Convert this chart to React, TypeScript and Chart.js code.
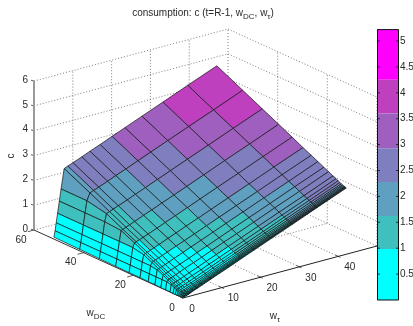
import React, { useEffect, useRef } from "react";
import { Chart, registerables } from "chart.js";
Chart.register(...registerables);

const wDC = [0, 0.15, 0.3, 0.5, 0.75, 1.05, 1.4, 1.85, 2.4, 3.1, 4, 5.2, 7, 8.9, 11.3, 14, 17.3, 21.7, 27.1, 33.7, 41.6, 52];
const wTau = [0, 0.3, 0.6, 0.95, 1.4, 1.85, 2.65, 3.6, 4.9, 7.2, 9.3, 11.9, 15, 18.3, 22.7, 28.1, 34.5, 42];
const consumption = [
  [0, .02, .04, .06, .09, .12, .17, .23, .31, .46, .59, .75, .95, 1.16, 1.44, 1.78, 2.19, 2.66],
  [0, .03, .05, .07, .10, .12, .18, .24, .32, .46, .60, .76, .96, 1.17, 1.45, 1.79, 2.19, 2.67],
  [0, .03, .05, .08, .10, .13, .18, .24, .33, .47, .61, .77, .97, 1.18, 1.45, 1.80, 2.20, 2.68],
  [0, .04, .06, .09, .11, .14, .19, .25, .34, .48, .62, .78, .98, 1.19, 1.46, 1.81, 2.21, 2.69],
  [0, .06, .08, .10, .13, .15, .21, .27, .35, .49, .63, .79, .99, 1.20, 1.48, 1.82, 2.22, 2.70],
  [0, .07, .09, .11, .14, .17, .22, .28, .36, .51, .64, .81, 1.00, 1.21, 1.49, 1.83, 2.24, 2.72],
  [0, .09, .11, .13, .16, .19, .24, .30, .38, .53, .66, .82, 1.02, 1.23, 1.51, 1.85, 2.26, 2.73],
  [0, .11, .13, .15, .18, .21, .26, .32, .40, .55, .68, .85, 1.04, 1.25, 1.53, 1.87, 2.28, 2.75],
  [0, .14, .16, .18, .21, .24, .29, .35, .43, .57, .71, .87, 1.07, 1.28, 1.56, 1.90, 2.31, 2.78],
  [0, .17, .19, .21, .24, .27, .32, .38, .46, .61, .74, .91, 1.10, 1.31, 1.59, 1.94, 2.34, 2.82],
  [0, .22, .24, .26, .29, .31, .37, .43, .51, .65, .79, .95, 1.15, 1.36, 1.64, 1.98, 2.38, 2.86],
  [.01, .28, .29, .32, .35, .37, .42, .48, .57, .71, .85, 1.01, 1.21, 1.42, 1.70, 2.04, 2.44, 2.92],
  [.01, .32, .38, .40, .43, .46, .51, .57, .66, .80, .93, 1.10, 1.30, 1.50, 1.78, 2.13, 2.53, 3.01],
  [.01, .32, .48, .50, .53, .56, .61, .67, .75, .89, 1.03, 1.19, 1.39, 1.60, 1.88, 2.22, 2.63, 3.10],
  [.02, .32, .59, .62, .65, .67, .72, .78, .87, 1.01, 1.15, 1.31, 1.51, 1.72, 2.00, 2.34, 2.74, 3.22],
  [.02, .32, .63, .75, .78, .81, .86, .92, 1.00, 1.15, 1.28, 1.44, 1.64, 1.85, 2.13, 2.47, 2.88, 3.35],
  [.03, .32, .63, .91, .94, .97, 1.02, 1.08, 1.16, 1.31, 1.44, 1.61, 1.80, 2.01, 2.29, 2.63, 3.04, 3.51],
  [.03, .32, .63, 1.00, 1.16, 1.19, 1.24, 1.30, 1.38, 1.52, 1.66, 1.82, 2.02, 2.23, 2.51, 2.85, 3.26, 3.73],
  [.04, .32, .63, 1.00, 1.42, 1.45, 1.50, 1.56, 1.64, 1.79, 1.92, 2.09, 2.28, 2.49, 2.77, 3.12, 3.52, 4.00],
  [.05, .32, .63, 1.00, 1.47, 1.78, 1.83, 1.89, 1.97, 2.11, 2.25, 2.41, 2.61, 2.82, 3.10, 3.44, 3.85, 4.32],
  [.06, .32, .63, 1.00, 1.47, 1.94, 2.22, 2.28, 2.36, 2.50, 2.64, 2.80, 3.00, 3.21, 3.49, 3.83, 4.23, 4.71],
  [.08, .32, .63, 1.00, 1.47, 1.94, 2.73, 2.79, 2.87, 3.01, 3.15, 3.31, 3.51, 3.72, 4.00, 4.34, 4.75, 5.22],
];
const bandEdges = [0, 0.985, 1.62, 2.28, 2.93, 3.6, 4.25, 5.22];
const bandColors = ["#00ffff", "#40bfbf", "#5f9fbf", "#7f7fbf", "#9f5fbf", "#bf40bf", "#ff00ff"];
const wDCTicks = [0, 20, 40, 60];
const wTauTicks = [0, 10, 20, 30, 40];
const cTicks = [0, 1, 2, 3, 4, 5, 6];
const colorbarTicks = [0.5, 1, 1.5, 2, 2.5, 3, 3.5, 4, 4.5, 5];

const WDC_MAX = 60;
const WT_MAX = 50;
const C_MAX = 6;
const project = (d: number, t: number, c: number) => ({
  x: 183 - 2.483 * d + 3.88 * t,
  y: 298 - 1.133 * d - 1.04 * t - 24.83 * c,
});
const barX0 = 377.5;
const barX1 = 398.5;
const barY = (v: number) => 300 - 51.8 * v;

const bandOf = (v: number) => {
  for (let k = bandColors.length - 1; k >= 0; k--) if (v >= bandEdges[k]) return bandColors[k];
  return bandColors[0];
};

const lineSet = (pts: { x: number; y: number }[], color: string, width: number, dash: number[] = []) => ({
  data: pts,
  showLine: true,
  fill: false,
  borderColor: color,
  borderWidth: width,
  borderDash: dash,
  pointRadius: 0,
  tension: 0,
});
const polySet = (pts: { x: number; y: number }[], fillColor: string, color: string, width: number) => ({
  data: [...pts, pts[0]],
  showLine: true,
  fill: "shape",
  backgroundColor: fillColor,
  borderColor: color,
  borderWidth: width,
  pointRadius: 0,
  tension: 0,
});

function buildDatasets() {
  const top: any[] = [];
  for (let k = 0; k < bandColors.length; k++) {
    top.push(
      polySet(
        [
          { x: barX0, y: barY(bandEdges[k]) },
          { x: barX1, y: barY(bandEdges[k]) },
          { x: barX1, y: barY(bandEdges[k + 1]) },
          { x: barX0, y: barY(bandEdges[k + 1]) },
        ],
        bandColors[k],
        bandColors[k],
        0
      )
    );
  }
  const barFrame = [
    { x: barX0, y: barY(bandEdges[0]) },
    { x: barX1, y: barY(bandEdges[0]) },
    { x: barX1, y: barY(bandEdges[7]) },
    { x: barX0, y: barY(bandEdges[7]) },
    { x: barX0, y: barY(bandEdges[0]) },
  ];
  const barSets: any[] = [lineSet(barFrame, "#111", 1)];
  colorbarTicks.forEach((v) => {
    barSets.push(lineSet([{ x: barX1 - 2.5, y: barY(v) }, { x: barX1, y: barY(v) }], "#111", 0.8));
    barSets.push(lineSet([{ x: barX0, y: barY(v) }, { x: barX0 + 2.5, y: barY(v) }], "#111", 0.8));
  });

  // surface, nearest facet first because Chart.js paints the last dataset first
  const surface: any[] = [];
  for (let i = 0; i < wDC.length - 1; i++) {
    for (let j = 0; j < wTau.length - 1; j++) {
      surface.push(
        polySet(
          [
            project(wDC[i], wTau[j], consumption[i][j]),
            project(wDC[i + 1], wTau[j], consumption[i + 1][j]),
            project(wDC[i + 1], wTau[j + 1], consumption[i + 1][j + 1]),
            project(wDC[i], wTau[j + 1], consumption[i][j + 1]),
          ],
          bandOf(consumption[i][j]),
          "#141414",
          0.7
        )
      );
    }
  }

  const box: any[] = [];
  const dash = [1, 2];
  const gridC = "#444";
  cTicks.forEach((c) => {
    if (c > 0) {
      box.push(lineSet([project(WDC_MAX, 0, c), project(WDC_MAX, WT_MAX, c)], gridC, 0.7, dash));
      box.push(lineSet([project(WDC_MAX, WT_MAX, c), project(0, WT_MAX, c)], gridC, 0.7, dash));
    }
  });
  [...wTauTicks.slice(1), WT_MAX].forEach((t) => {
    box.push(lineSet([project(WDC_MAX, t, 0), project(WDC_MAX, t, C_MAX)], gridC, 0.7, dash));
    if (t < WT_MAX) box.push(lineSet([project(0, t, 0), project(WDC_MAX, t, 0)], gridC, 0.7, dash));
  });
  [...wDCTicks.slice(0, 3)].forEach((d) => {
    box.push(lineSet([project(d, WT_MAX, 0), project(d, WT_MAX, C_MAX)], gridC, 0.7, dash));
    if (d > 0) box.push(lineSet([project(d, 0, 0), project(d, WT_MAX, 0)], gridC, 0.7, dash));
  });
  box.push(lineSet([project(WDC_MAX, 0, 0), project(WDC_MAX, WT_MAX, 0)], gridC, 0.7, dash));
  box.push(lineSet([project(WDC_MAX, WT_MAX, 0), project(0, WT_MAX, 0)], gridC, 0.7, dash));

  const axes: any[] = [];
  axes.push(lineSet([project(0, 0, 0), project(WDC_MAX, 0, 0)], "#333", 1));
  axes.push(lineSet([project(0, 0, 0), project(0, WT_MAX, 0)], "#222", 1));
  axes.push(lineSet([project(WDC_MAX, 0, 0), project(WDC_MAX, 0, C_MAX)], "#999", 2));
  wDCTicks.slice(1).forEach((d) => axes.push(lineSet([project(d, 0, 0), project(d, -1.6, 0)], "#333", 0.8)));
  wTauTicks.slice(1).forEach((t) => axes.push(lineSet([project(-0.9, t, 0), project(1.2, t, 0)], "#333", 0.8)));
  cTicks.forEach((c) => {
    const p = project(WDC_MAX, 0, c);
    axes.push(lineSet([p, { x: p.x - 3, y: p.y - 0.8 }], "#333", 0.8));
  });

  return [...barSets, ...top, ...surface, ...axes, ...box];
}

const FONT = '"Liberation Sans", Arial, sans-serif';

function drawRuns(ctx: CanvasRenderingContext2D, runs: [string, boolean][], cx: number, cy: number, size: number) {
  const sub = size * 0.8;
  let total = 0;
  runs.forEach(([s, isSub]) => {
    ctx.font = `${isSub ? sub : size}px ${FONT}`;
    total += ctx.measureText(s).width;
  });
  let x = cx - total / 2;
  ctx.textAlign = "left";
  runs.forEach(([s, isSub]) => {
    ctx.font = `${isSub ? sub : size}px ${FONT}`;
    ctx.fillText(s, x, cy + (isSub ? size * 0.35 : 0));
    x += ctx.measureText(s).width;
  });
}

const textPlugin = {
  id: "labels3d",
  afterDraw(chart: any) {
    const ctx: CanvasRenderingContext2D = chart.ctx;
    ctx.save();
    ctx.fillStyle = "#2a2a2a";
    ctx.textBaseline = "middle";
    ctx.font = `10px ${FONT}`;
    ctx.textAlign = "center";
    wDCTicks.forEach((d) => {
      const p = project(d, 0, 0);
      ctx.fillText(String(d), p.x - (d === 0 ? 11 : 13), p.y + 10);
    });
    wTauTicks.forEach((t) => {
      const p = project(0, t, 0);
      ctx.fillText(String(t), p.x + (t === 0 ? 9 : 11.5), p.y + 11);
    });
    ctx.textAlign = "right";
    cTicks.forEach((c) => {
      const p = project(WDC_MAX, 0, c);
      ctx.fillText(String(c), p.x - 6, p.y - 1);
    });
    ctx.textAlign = "left";
    colorbarTicks.forEach((v) => ctx.fillText(String(v), barX1 + 1.5, barY(v)));

    drawRuns(ctx, [["consumption: c (t=R-1, w", false], ["DC", true], [", w", false], ["τ", true], [")", false]], 203, 13, 10);
    drawRuns(ctx, [["w", false], ["DC", true]], 96, 313, 10);
    drawRuns(ctx, [["w", false], ["τ", true]], 275, 316, 10);
    ctx.translate(11, 156);
    ctx.rotate(-Math.PI / 2);
    ctx.textAlign = "center";
    ctx.font = `10px ${FONT}`;
    ctx.fillText("c", 0, 0);
    ctx.restore();
  },
};

export default function App() {
  const ref = useRef<HTMLCanvasElement>(null);
  useEffect(() => {
    document.body.style.margin = "0";
    document.body.style.background = "#fff";
    const chart = new Chart(ref.current!, {
      type: "scatter",
      data: { datasets: buildDatasets() },
      options: {
        animation: false,
        responsive: false,
        layout: { padding: 0 },
        plugins: { legend: { display: false }, tooltip: { enabled: false }, title: { display: false } },
        scales: {
          x: { type: "linear", min: 0, max: 413, display: false },
          y: { type: "linear", min: 0, max: 326, reverse: true, display: false },
        },
      },
      plugins: [textPlugin],
    } as any);
    return () => chart.destroy();
  }, []);
  return <canvas ref={ref} width={413} height={326} style={{ display: "block" }} />;
}
